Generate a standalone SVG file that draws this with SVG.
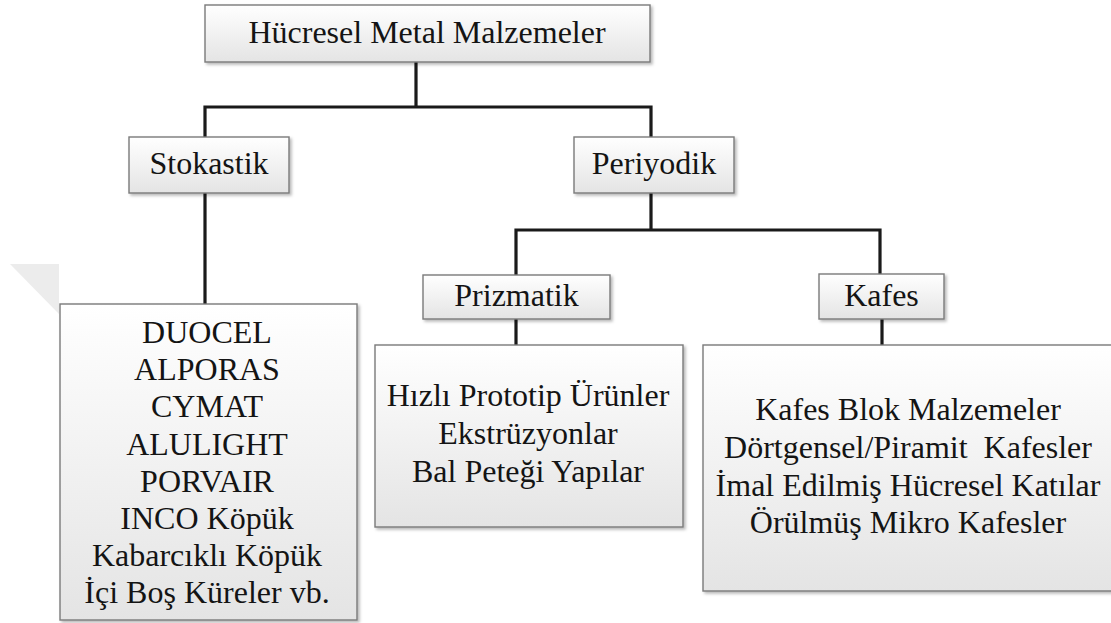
<svg xmlns="http://www.w3.org/2000/svg" width="1111" height="623" viewBox="0 0 1111 623">
<defs>
  <linearGradient id="g" x1="0" y1="0" x2="0" y2="1">
    <stop offset="0" stop-color="#ffffff"/>
    <stop offset="1" stop-color="#e4e4e4"/>
  </linearGradient>
  <filter id="sh" x="-5%" y="-5%" width="115%" height="120%">
    <feDropShadow dx="2" dy="2" stdDeviation="1.5" flood-color="#000" flood-opacity="0.28"/>
  </filter>
</defs>
<style>
  .box { fill: url(#g); stroke: #7a7a7a; stroke-width: 1.4; filter: url(#sh); }
  .t { font-family: 'Liberation Serif', 'Times New Roman', serif; font-size: 32px; fill: #141414; text-anchor: middle; }
  .c { fill: none; stroke: #1a1a1a; stroke-width: 3.2; stroke-linecap: square; stroke-linejoin: miter; }
</style>
<rect width="1111" height="623" fill="#ffffff"/>
<polygon points="10,264 59,264 59,314" fill="#ececec"/>

<g id="connectors">
  <path class="c" d="M416,62 V107 M205,137 V107 H651 V137"/>
  <path class="c" d="M205,193 V304"/>
  <path class="c" d="M651,193 V230 M516,275 V230 H880 V274"/>
  <path class="c" d="M516,319 V345"/>
  <path class="c" d="M882,319 V345"/>
</g>

<g id="node-root">
  <rect class="box" x="205" y="5" width="445" height="57"/>
  <text class="t" x="427" y="43">Hücresel Metal Malzemeler</text>
</g>
<g id="node-stokastik">
  <rect class="box" x="129" y="137" width="160" height="56"/>
  <text class="t" x="209" y="174">Stokastik</text>
</g>
<g id="node-periyodik">
  <rect class="box" x="574" y="137" width="160" height="56"/>
  <text class="t" x="654" y="174">Periyodik</text>
</g>
<g id="node-prizmatik">
  <rect class="box" x="423" y="275" width="187" height="44"/>
  <text class="t" x="516.5" y="306">Prizmatik</text>
</g>
<g id="node-kafes">
  <rect class="box" x="819" y="274" width="125" height="45"/>
  <text class="t" x="881.5" y="306">Kafes</text>
</g>
<g id="node-stokastik-list">
  <rect class="box" x="60" y="304" width="297" height="316"/>
  <text class="t" x="207" y="343">DUOCEL</text>
  <text class="t" x="207" y="380">ALPORAS</text>
  <text class="t" x="207" y="417">CYMAT</text>
  <text class="t" x="207" y="455">ALULIGHT</text>
  <text class="t" x="207" y="492">PORVAIR</text>
  <text class="t" x="207" y="529">INCO Köpük</text>
  <text class="t" x="207" y="566">Kabarcıklı Köpük</text>
  <text class="t" x="207" y="603">İçi Boş Küreler vb.</text>
</g>
<g id="node-prizmatik-list">
  <rect class="box" x="375" y="345" width="308" height="182"/>
  <text class="t" x="528" y="406">Hızlı Prototip Ürünler</text>
  <text class="t" x="528" y="444">Ekstrüzyonlar</text>
  <text class="t" x="528" y="482">Bal Peteği Yapılar</text>
</g>
<g id="node-kafes-list">
  <rect class="box" x="703" y="345" width="410" height="246"/>
  <text class="t" x="908" y="420">Kafes Blok Malzemeler</text>
  <text class="t" x="908" y="458" xml:space="preserve">Dörtgensel/Piramit  Kafesler</text>
  <text class="t" x="908" y="496">İmal Edilmiş Hücresel Katılar</text>
  <text class="t" x="908" y="533">Örülmüş Mikro Kafesler</text>
</g>
</svg>
